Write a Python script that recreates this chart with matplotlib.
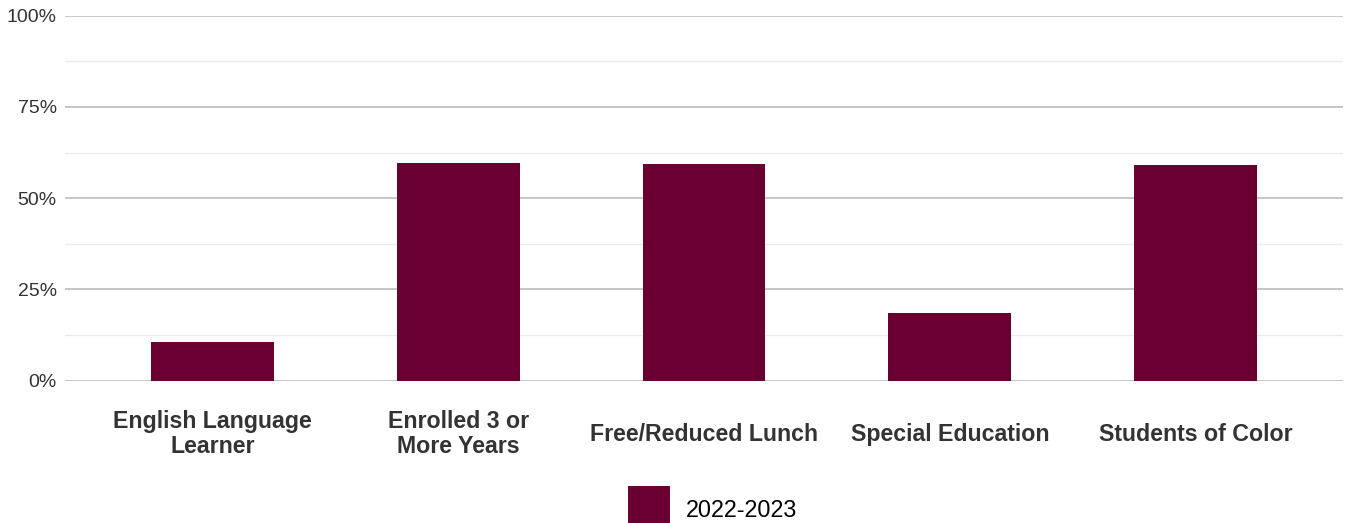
import numpy as np
import matplotlib.pyplot as plt
from matplotlib.patches import Rectangle
from matplotlib.ticker import FixedLocator

# ---- Data ----
CATEGORIES = ['English Language\nLearner', 'Enrolled 3 or\nMore Years',
              'Free/Reduced Lunch', 'Special Education', 'Students of Color']
VALUES = [10.6, 59.7, 59.4, 18.5, 59.1]
SERIES = '2022-2023'
Y_TICKS = [0, 25, 50, 75, 100]
Y_TICK_LABELS = ['0%', '25%', '50%', '75%', '100%']
Y_MINOR = [12.5, 37.5, 62.5, 87.5]

BAR_COLOR = '#6a0032'
TEXT_COLOR = '#333333'

plt.rcParams['font.family'] = ['Liberation Sans', 'DejaVu Sans']

W, H = 1348, 523
fig = plt.figure(figsize=(W / 100, H / 100), dpi=100)
ax = fig.add_axes([65 / W, 1 - 380.7 / H, (1343 - 65) / W, (380.7 - 15.7) / H])

x = np.arange(len(CATEGORIES))
ax.bar(x, VALUES, width=0.5, color=BAR_COLOR, zorder=3)

ax.set_xlim(-0.6, len(CATEGORIES) - 0.4)
ax.set_ylim(0, 100)

# gridlines: major darker, minor lighter
ax.yaxis.set_major_locator(FixedLocator(Y_TICKS))
ax.yaxis.set_minor_locator(FixedLocator(Y_MINOR))
ax.grid(axis='y', which='major', color='#c6c6c6', linewidth=1.4, zorder=0)
ax.grid(axis='y', which='minor', color='#ebebeb', linewidth=1.0, zorder=0)
ax.set_yticklabels(Y_TICK_LABELS)

ax.set_xticks(x)
ax.set_xticklabels(CATEGORIES, fontweight='bold', fontsize=16.7,
                   color=TEXT_COLOR, linespacing=1.12)
plt.setp(ax.get_xticklabels(), va='center')

ax.tick_params(axis='x', length=0, pad=38.5)
ax.tick_params(axis='y', which='both', length=0, pad=6, labelsize=14,
               labelcolor=TEXT_COLOR)

for s in ax.spines.values():
    s.set_visible(False)

# legend: single swatch, partly cut off by the bottom edge as in the source
fig.patches.append(Rectangle((628 / W, 1 - 528 / H), 42 / W, 42 / H,
                             transform=fig.transFigure, facecolor=BAR_COLOR,
                             edgecolor='none'))
fig.text(686 / W, 1 - 517 / H, SERIES, fontsize=16.8, color='black',
         ha='left', va='baseline')

fig.savefig('out.png', dpi=100)
